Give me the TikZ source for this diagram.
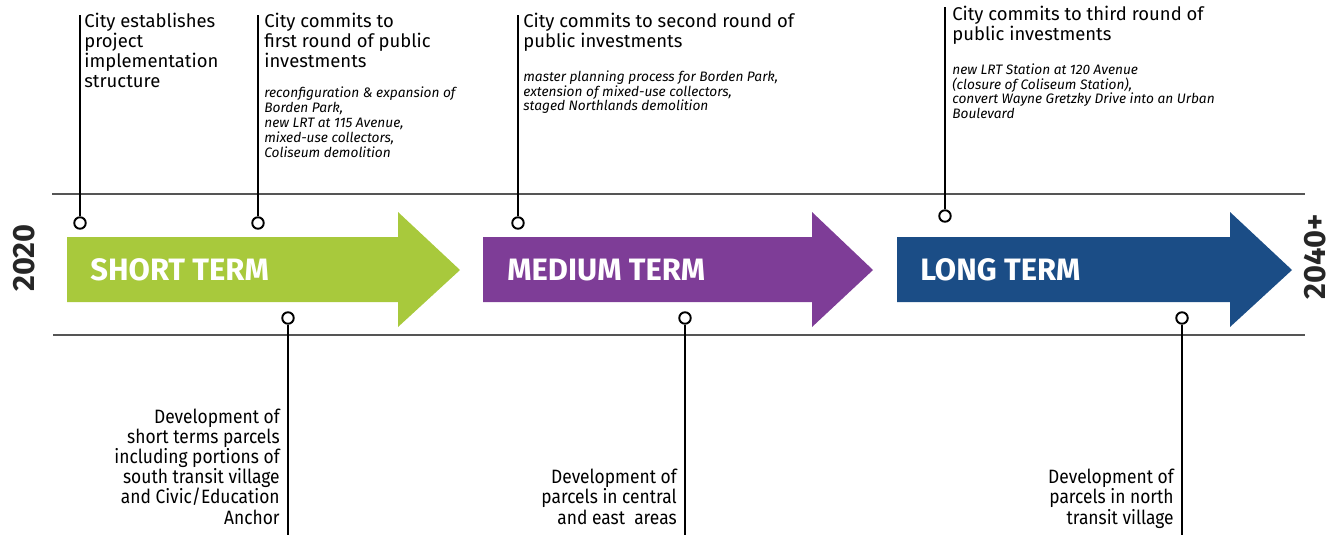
\documentclass[tikz,border=0pt]{standalone}
\usepackage{fontspec}
\setmainfont{Fira Sans}
\newfontfamily\headfont{Fira Sans}
\newfontfamily\narrowfont[FakeStretch=0.9]{Fira Sans}
\usetikzlibrary{positioning}
\definecolor{short-green}{HTML}{A8C93C}
\definecolor{medium-purple}{HTML}{7E3D97}
\definecolor{long-blue}{HTML}{1B4D86}
\definecolor{rule-gray}{HTML}{555555}

\begin{document}
\begin{tikzpicture}[
    x=0.02cm, y=-0.02cm,
    milestone/.style={anchor=north west, inner sep=0pt, align=left, font=\headfont\fontsize{10.5}{11.4}\selectfont},
    details/.style={inner sep=0pt, align=left, font=\headfont\itshape\fontsize{7.8}{8.5}\selectfont},
    parcels/.style={anchor=south east, inner sep=0pt, align=right, text depth=2.6pt, font=\narrowfont\fontsize{11}{11.45}\selectfont},
    ring/.style={draw, circle, line width=1.1pt, fill=white, minimum size=0.23cm, inner sep=0pt},
    pin/.style={line width=1.4pt},
    rule/.style={draw=rule-gray, line width=0.6pt},
    term/.style={anchor=west, text=white, inner sep=0pt, font=\bfseries\fontsize{17.6}{17.6}\selectfont},
    year/.style={rotate=90, inner sep=0pt, text=black!85, font=\bfseries\fontsize{17.5}{17.5}\selectfont}
]
    \useasboundingbox (0,0) rectangle (1338,535);

    % --- Timeline band ---
    \draw[rule] (52,194) -- (1305,194);
    \draw[rule] (53,335) -- (1305,335);

    \foreach \xa/\xb/\xc/\col in {67/398/460/short-green, 483/812/873/medium-purple, 897/1230/1292/long-blue}
        \fill[\col] (\xa,237) -- (\xb,237) -- (\xb,212) -- (\xc,270) -- (\xb,327) -- (\xb,302) -- (\xa,302) -- cycle;

    \node[term] (short) at (90,270) {SHORT TERM};
    \node[term] (medium) at (507,270) {MEDIUM TERM};
    \node[term] (long) at (920,270) {LONG TERM};

    \node[year] (start) at (24,258) {2020};
    \node[year] (finish) at (1315,257) {2040+};

    % --- City milestones (above) ---
    \node[milestone] (setup) at (84,13) {City establishes\\project\\implementation\\structure};
    \node[milestone] (round1) at (264,13) {City commits to\\first round of public\\investments};
    \node[details, below=0.36cm of round1.south west, anchor=north west] (round1x) {reconfiguration \& expansion of\\Borden Park,\\new LRT at 115 Avenue,\\mixed-use collectors,\\Coliseum demolition};
    \node[milestone] (round2) at (523,13) {City commits to second round of\\public investments};
    \node[details, below=0.36cm of round2.south west, anchor=north west] (round2x) {master planning process for Borden Park,\\extension of mixed-use collectors,\\staged Northlands demolition};
    \node[milestone] (round3) at (952,6) {City commits to third round of\\public investments};
    \node[details, below=0.36cm of round3.south west, anchor=north west] (round3x) {new LRT Station at 120 Avenue\\(closure of Coliseum Station),\\convert Wayne Gretzky Drive into an Urban\\Boulevard};

    \node[ring] (setup_pt) at (80,223) {};
    \node[ring] (round1_pt) at (258,223) {};
    \node[ring] (round2_pt) at (518,223) {};
    \node[ring] (round3_pt) at (945,216) {};
    \coordinate (setup_top) at (80,15);
    \coordinate (round1_top) at (258,15);
    \coordinate (round2_top) at (518,15);
    \coordinate (round3_top) at (945,7);

    % --- Parcel development (below) ---
    \node[parcels] (south) at (280,529) {Development of\\short terms parcels\\including portions of\\south transit village\\and Civic/Education\\Anchor};
    \node[parcels] (central) at (677,529) {Development of\\parcels in central\\and east\ \ areas};
    \node[parcels] (north) at (1174,529) {Development of\\parcels in north\\transit village};

    \node[ring] (south_pt) at (288,318) {};
    \node[ring] (central_pt) at (685,318) {};
    \node[ring] (north_pt) at (1182,318) {};
    \coordinate (south_end) at (288,535);
    \coordinate (central_end) at (685,535);
    \coordinate (north_end) at (1182,535);

    % --- Connections ---
    \draw[pin] (setup_top) -- (setup_pt);
    \draw[pin] (round1_top) -- (round1_pt);
    \draw[pin] (round2_top) -- (round2_pt);
    \draw[pin] (round3_top) -- (round3_pt);
    \draw[pin] (south_pt) -- (south_end);
    \draw[pin] (central_pt) -- (central_end);
    \draw[pin] (north_pt) -- (north_end);

\end{tikzpicture}
\end{document}
